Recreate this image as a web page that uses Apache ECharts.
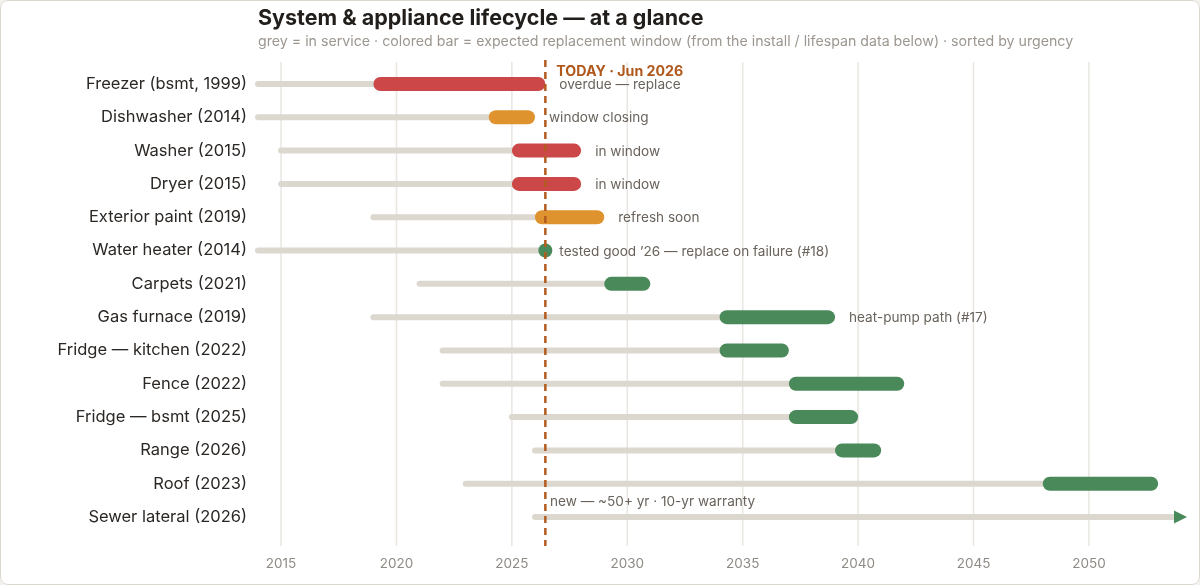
<!DOCTYPE html>
<html>
<head>
<meta charset="utf-8">
<script src="https://cdn.jsdelivr.net/npm/echarts@6/dist/echarts.min.js"></script>
<style>
  html, body { margin: 0; padding: 0; background: #f3f1ed; }
  #wrap { position: relative; width: 1200px; height: 585px; }
  #chart { position: absolute; left: 0; top: 0; width: 1200px; height: 585px; background: #fff; border-radius: 8px; }
  #frame { position: absolute; left: 0; top: 0; width: 1200px; height: 585px; box-sizing: border-box;
           border: 1.5px solid #dcd8d0; border-radius: 8px; pointer-events: none; }
</style>
</head>
<body>
<div id="wrap">
  <div id="chart"></div>
  <div id="frame"></div>
</div>
<script>
// rows, sorted by urgency
const items = [
  'Freezer (bsmt, 1999)', 'Dishwasher (2014)', 'Washer (2015)', 'Dryer (2015)',
  'Exterior paint (2019)', 'Water heater (2014)', 'Carpets (2021)', 'Gas furnace (2019)',
  'Fridge — kitchen (2022)', 'Fence (2022)', 'Fridge — bsmt (2025)', 'Range (2026)',
  'Roof (2023)', 'Sewer lateral (2026)'
];
const installYear = [1999, 2014, 2015, 2015, 2019, 2014, 2021, 2019, 2022, 2022, 2025, 2026, 2023, 2026];
// expected replacement window (null = open ended)
const windowStart = [2019, 2024, 2025, 2025, 2026, 2026.45, 2029, 2034, 2034, 2037, 2037, 2039, 2048, null];
const windowEnd   = [2026.45, 2026, 2028, 2028, 2029, 2026.45, 2031, 2039, 2037, 2042, 2040, 2041, 2053, null];
const status = ['overdue', 'soon', 'overdue', 'overdue', 'soon', 'ok', 'ok', 'ok', 'ok', 'ok', 'ok', 'ok', 'ok', 'new'];
const notes = [
  'overdue — replace', 'window closing', 'in window', 'in window', 'refresh soon',
  'tested good ’26 — replace on failure (#18)', '', 'heat-pump path (#17)', '', '', '', '', '',
  'new — ~50+ yr · 10-yr warranty'
];
const tickYears = [2015, 2020, 2025, 2030, 2035, 2040, 2045, 2050];
const todayYear = 2026.45;
const todayLabel = 'TODAY · Jun 2026';

const xMin = 2014, xMax = 2054.25;
const yMin = -0.66, yMax = 13.87;
const colors = { overdue: '#cc4747', soon: '#de932f', ok: '#4a8a5a', new: '#4a8a5a' };
const FONT = 'Inter, "Noto Sans", sans-serif';

const chart = echarts.init(document.getElementById('chart'));

function renderGrid(params, api) {
  const top = api.coord([api.value(0), yMin]);
  const bot = api.coord([api.value(0), yMax]);
  return {
    type: 'line',
    shape: { x1: top[0], y1: top[1], x2: bot[0], y2: bot[1] },
    style: { stroke: '#e9e6e1', lineWidth: 1.5 }
  };
}

function renderRow(params, api) {
  const i = api.value(0);
  const y = api.coord([xMin, i])[1];
  const xs = api.coord([Math.max(installYear[i], xMin), i])[0];
  const children = [];
  const open = windowStart[i] == null;
  const xAxisEnd = api.coord([xMax, i])[0];
  const greyEnd = open ? xAxisEnd - 13 : api.coord([windowStart[i], i])[0];
  children.push({
    type: 'line',
    shape: { x1: xs, y1: y, x2: greyEnd, y2: y },
    style: { stroke: '#ddd8cf', lineWidth: 6, lineCap: 'round' }
  });
  let noteX;
  if (open) {
    children.push({
      type: 'polygon',
      shape: { points: [[xAxisEnd - 13, y - 6.5], [xAxisEnd, y], [xAxisEnd - 13, y + 6.5]] },
      style: { fill: colors[status[i]] }
    });
  } else {
    const x0 = api.coord([windowStart[i], i])[0];
    const x1 = api.coord([windowEnd[i], i])[0];
    if (x1 - x0 < 1) {
      children.push({ type: 'circle', shape: { cx: x0, cy: y, r: 7 }, style: { fill: colors[status[i]] } });
    } else {
      children.push({
        type: 'rect',
        shape: { x: x0, y: y - 7, width: x1 - x0, height: 14, r: 7 },
        style: { fill: colors[status[i]] }
      });
    }
    noteX = x1 + 14;
  }
  if (notes[i]) {
    children.push({
      type: 'text',
      x: open ? xs + 15 : noteX,
      y: open ? y - 15 : y + 1,
      style: {
        text: notes[i], fill: '#6a635c', fontSize: 13.6, fontFamily: FONT,
        align: 'left', verticalAlign: 'middle'
      }
    });
  }
  return { type: 'group', children: children };
}

function renderToday(params, api) {
  const t = api.value(0);
  const top = api.coord([t, yMin]);
  const bot = api.coord([t, yMax]);
  const row0 = api.coord([t, 0]);
  return {
    type: 'group',
    children: [
      {
        type: 'line',
        shape: { x1: top[0], y1: top[1] - 2, x2: bot[0], y2: bot[1] },
        style: { stroke: '#b35b1f', lineWidth: 2.5, lineDash: [7, 5] }
      },
      {
        type: 'text',
        x: top[0] + 11,
        y: row0[1] - 12,
        style: {
          text: todayLabel, fill: '#b0591d', fontSize: 14.2, fontWeight: 'bold', fontFamily: FONT,
          align: 'left', verticalAlign: 'middle'
        }
      }
    ]
  };
}

chart.setOption({
  animation: false,
  title: {
    text: 'System & appliance lifecycle — at a glance',
    subtext: 'grey = in service · colored bar = expected replacement window (from the install / lifespan data below) · sorted by urgency',
    left: 258,
    top: 8,
    padding: 0,
    itemGap: 5,
    textStyle: { fontSize: 21.5, fontWeight: 'bold', color: '#221e1b', fontFamily: FONT },
    subtextStyle: { fontSize: 14.2, color: '#9c968f', fontFamily: FONT }
  },
  grid: { left: 258, right: 13, top: 62, bottom: 39 },
  xAxis: {
    type: 'value',
    min: xMin,
    max: xMax,
    axisLine: { show: false },
    axisTick: { show: false },
    splitLine: { show: false },
    axisLabel: {
      customValues: tickYears,
      formatter: v => String(v),
      color: '#8f8a84',
      fontSize: 13.5,
      fontFamily: FONT,
      margin: 11
    }
  },
  yAxis: {
    type: 'value',
    inverse: true,
    min: yMin,
    max: yMax,
    axisLine: { show: false },
    axisTick: { show: false },
    splitLine: { show: false },
    axisLabel: {
      customValues: items.map((n, i) => i),
      formatter: v => items[v] || '',
      color: '#2b2724',
      fontSize: 16.5,
      fontFamily: FONT,
      margin: 11
    }
  },
  series: [
    {
      type: 'custom',
      name: 'grid',
      silent: true,
      z: 1,
      renderItem: renderGrid,
      data: tickYears.map(y => [y])
    },
    {
      type: 'custom',
      name: 'lifecycle',
      z: 2,
      renderItem: renderRow,
      data: items.map((n, i) => [i, installYear[i], windowStart[i], windowEnd[i]])
    },
    {
      type: 'custom',
      name: 'today',
      silent: true,
      z: 3,
      renderItem: renderToday,
      data: [[todayYear]]
    }
  ]
});
</script>
</body>
</html>
